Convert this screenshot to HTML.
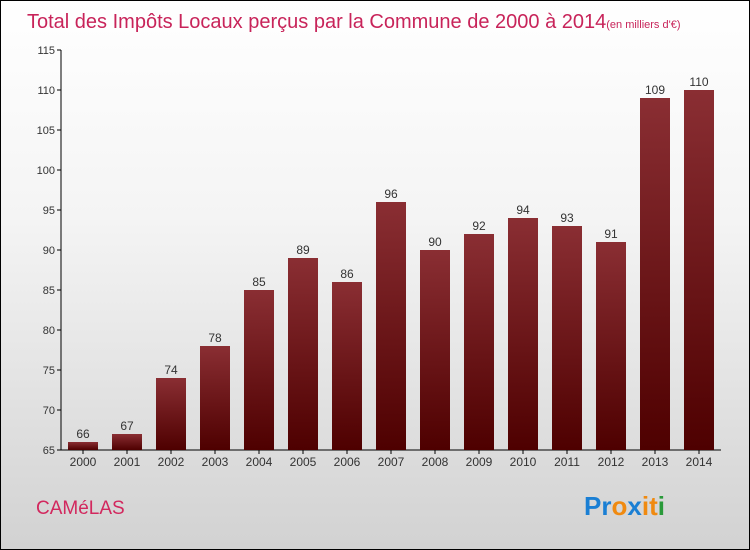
<!DOCTYPE html>
<html><head><meta charset="utf-8"><style>
body{margin:0;}
#wrap{position:relative;width:748px;height:548px;border:1px solid #000;background:linear-gradient(#fff 0%,#f4f4f4 40%,#d2d2d2 100%);font-family:"Liberation Sans",sans-serif;overflow:hidden}
</style></head><body>
<div id="wrap">
<svg id="c" width="748" height="548">
<defs><linearGradient id="g" x1="0" y1="0" x2="0" y2="1"><stop offset="0" stop-color="#8a2e33"/><stop offset="1" stop-color="#4e0000"/></linearGradient></defs>
<text x="26" y="27" font-size="20" fill="#c8245a">Total des Impôts Locaux perçus par la Commune de 2000 à 2014<tspan font-size="11">(en milliers d'€)</tspan></text>
<text x="35" y="513" font-size="19" fill="#d2285e">CAMéLAS</text>
<g font-size="26" font-weight="bold" font-family="'Liberation Sans',sans-serif">
<text x="583" y="514"><tspan fill="#1a7fd4">Pr</tspan><tspan fill="#f08a10">o</tspan><tspan fill="#1a7fd4">x</tspan><tspan fill="#f08a10">i</tspan><tspan fill="#f08a10">t</tspan><tspan fill="#2a9a3a">i</tspan></text>
</g>
<g id="axes"></g><g id="bars"></g>
</svg></div>
<script>
const years=["2000","2001","2002","2003","2004","2005","2006","2007","2008","2009","2010","2011","2012","2013","2014"];
const values=[66,67,74,78,85,89,86,96,90,92,94,93,91,109,110];
const ticks=[65,70,75,80,85,90,95,100,105,110,115];
const NS="http://www.w3.org/2000/svg";
const yMin=65,yMax=115,yTop=49,yBot=449,xLeft=60,xRight=720;
const ys=v=>yBot-(v-yMin)/(yMax-yMin)*(yBot-yTop);
const step=(xRight-xLeft)/years.length;
const xs=i=>xLeft+step*(i+0.5);
function mk(t,a,p){const e=document.createElementNS(NS,t);for(const k in a)e.setAttribute(k,a[k]);p.appendChild(e);return e;}
const ax=document.getElementById('axes'),bs=document.getElementById('bars');
const yl=mk('line',{x1:xLeft,x2:xLeft,y1:yTop,y2:yBot,stroke:'#000'},ax);


const xl=mk('line',{x1:xLeft,x2:xRight,y1:yBot,y2:yBot,stroke:'#000'},ax);


ticks.forEach(t=>{
 mk('line',{x1:xLeft-4,x2:xLeft,y1:ys(t),y2:ys(t),stroke:'#000'},ax);
 const tx=mk('text',{x:xLeft-6,y:ys(t)+4,'text-anchor':'end','font-size':11,fill:'#333'},ax);
 tx.textContent=t;
 
 
});
years.forEach((yr,i)=>{
 const v=values[i];
 const r=mk('rect',{x:xs(i)-15,y:ys(v),width:30,height:yBot-ys(v),fill:'url(#g)'},bs);
 
 
 const l=mk('text',{x:xs(i),y:ys(v)-4,'text-anchor':'middle','font-size':12,fill:'#333'},bs);
 l.textContent=v;
 
 
 mk('line',{x1:xs(i),x2:xs(i),y1:yBot,y2:yBot+4,stroke:'#000'},ax);
 const xt=mk('text',{x:xs(i),y:yBot+16,'text-anchor':'middle','font-size':12,fill:'#333'},ax);
 xt.textContent=yr;
 
 
});
</script>
</body></html>
